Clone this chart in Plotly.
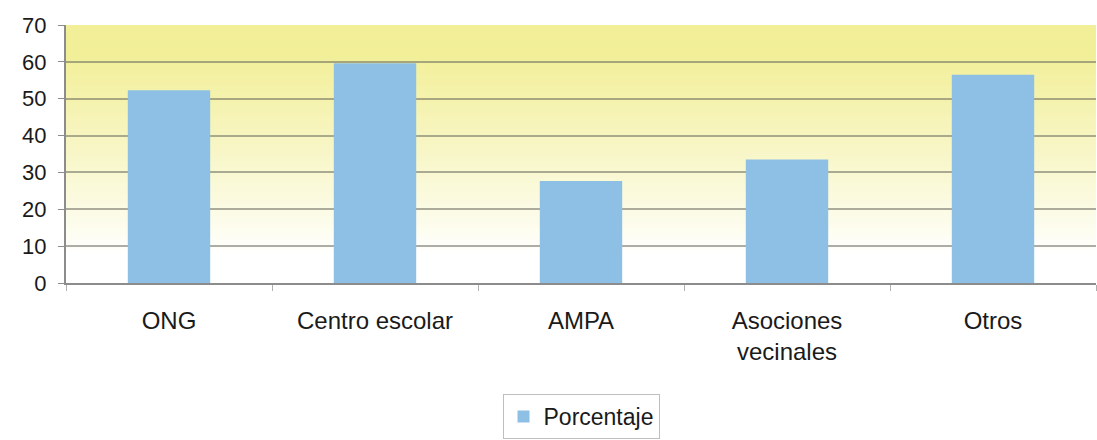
import plotly.graph_objects as go

# Data
categories = ["ONG", "Centro escolar", "AMPA", "Asociones<br>vecinales", "Otros"]
porcentaje = [52.3, 59.6, 27.7, 33.5, 56.5]
y_ticks = [0, 10, 20, 30, 40, 50, 60, 70]
series_name = "Porcentaje"

FONT = "Liberation Sans, Arial, sans-serif"
BAR_COLOR = "#8EC0E6"
GRID = "rgba(105,105,95,0.55)"
AXIS = "#8C8C8C"

fig = go.Figure()
fig.add_trace(go.Bar(
    x=categories,
    y=porcentaje,
    name=series_name,
    marker=dict(color=BAR_COLOR, line=dict(width=0)),
    showlegend=True,
))

# Vertical background gradient: white near the bottom fading to pale yellow at the top.
# Each band runs up to the top so that stacked bands leave no seams.
shapes = []
top = (242, 239, 153)
n = 140
for i in range(n):
    y0 = 70 * i / n
    v = y0 + 35 / n
    t = min(max((v - 8) / 54, 0), 1)
    t = t ** 0.9
    r = round(255 + (top[0] - 255) * t)
    g = round(255 + (top[1] - 255) * t)
    b = round(255 + (top[2] - 255) * t)
    shapes.append(dict(
        type="rect", xref="paper", yref="y", x0=0, x1=1, y0=y0, y1=70,
        fillcolor=f"rgb({r},{g},{b})", line=dict(width=0), layer="below",
    ))

fig.update_layout(
    width=1097,
    height=440,
    margin=dict(l=66, r=1, t=25, b=154),
    paper_bgcolor="white",
    plot_bgcolor="white",
    shapes=shapes,
    bargap=0.6,
    font=dict(family=FONT, size=22, color="#1a1a1a"),
    showlegend=True,
    legend=dict(
        orientation="h",
        x=0.5, xanchor="center",
        y=-0.43, yanchor="top",
        bordercolor="#BEBEBE", borderwidth=1,
        bgcolor="white",
        font=dict(family=FONT, size=23, color="#1a1a1a"),
        itemwidth=30,
    ),
    xaxis=dict(
        type="category",
        tickson="boundaries",
        ticks="outside",
        ticklen=6,
        tickcolor="#B0B0B0",
        showline=True,
        linecolor=AXIS,
        linewidth=2,
        showgrid=False,
        tickfont=dict(family=FONT, size=24, color="#1a1a1a"),
        ticklabelstandoff=15,
    ),
    yaxis=dict(
        range=[0, 70],
        tickvals=y_ticks,
        ticks="outside",
        ticklen=6,
        tickcolor=AXIS,
        showline=True,
        linecolor=AXIS,
        linewidth=2,
        showgrid=True,
        gridcolor=GRID,
        gridwidth=1.5,
        zeroline=False,
        tickfont=dict(family=FONT, size=22, color="#1a1a1a"),
        ticklabelstandoff=7,
    ),
)

fig.write_html("out.html")
